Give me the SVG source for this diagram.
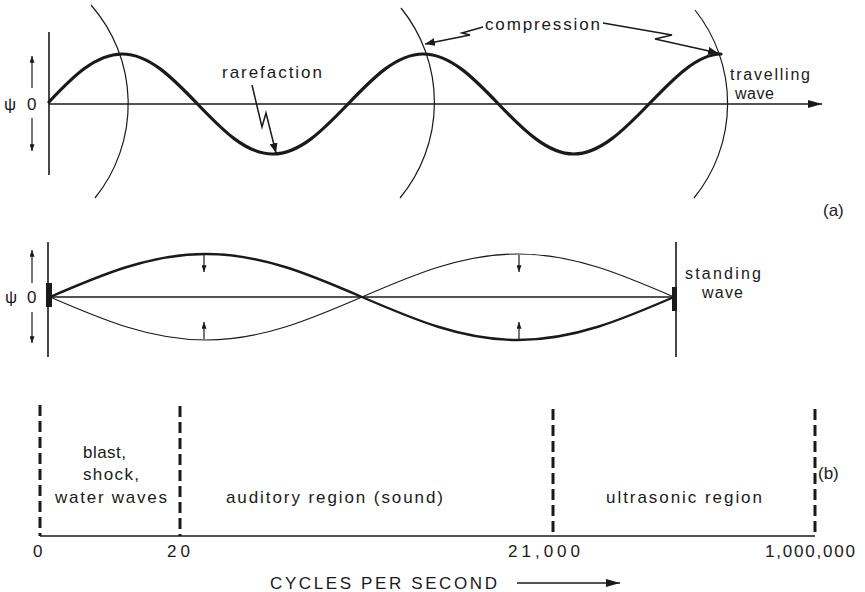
<svg xmlns="http://www.w3.org/2000/svg" width="865" height="592" viewBox="0 0 865 592">
<style>
text{font-family:"Liberation Sans","DejaVu Sans",sans-serif;fill:#1a1a1a;font-size:17px}
.sm{font-size:16px}
.thin{fill:none;stroke:#1a1a1a;stroke-width:1.2}
.axis{fill:none;stroke:#1a1a1a;stroke-width:1.6}
.thick{fill:none;stroke:#1a1a1a;stroke-width:3.2;stroke-linecap:round}
.mid{fill:none;stroke:#1a1a1a;stroke-width:2.4}
.dash{fill:none;stroke:#1a1a1a;stroke-width:3;stroke-dasharray:11 5}
.lead{fill:none;stroke:#1a1a1a;stroke-width:1.5;stroke-linejoin:miter}
</style>
<defs>
<marker id="ah" viewBox="0 0 10 8" refX="10" refY="4" markerWidth="10" markerHeight="8" markerUnits="userSpaceOnUse" orient="auto">
<path d="M0,0 L10,4 L0,8 Z" fill="#1a1a1a"/>
</marker>
<marker id="sm" viewBox="0 0 8 6" refX="8" refY="3" markerWidth="7" markerHeight="5" markerUnits="userSpaceOnUse" orient="auto">
<path d="M0,0 L8,3 L0,6 Z" fill="#1a1a1a"/>
</marker>
<marker id="big" viewBox="0 0 14 8" refX="14" refY="4" markerWidth="14" markerHeight="8" markerUnits="userSpaceOnUse" orient="auto">
<path d="M0,0 L14,4 L0,8 Z" fill="#1a1a1a"/>
</marker>
</defs>

<g id="travelling-wave">
<line class="axis" x1="49" y1="32" x2="49" y2="175"/>
<line class="axis" x1="49" y1="104" x2="822" y2="104" marker-end="url(#big)"/>
<path class="thin" d="M91,5 A150,150 0 0 1 95,198"/>
<path class="thin" d="M401,8 A150,150 0 0 1 400,198"/>
<path class="thin" d="M695,10 A150,150 0 0 1 694,198"/>
<path class="thick" d="M49,102 C72,77.5 95.1,54 122.25,54 S172.94,78.4 197.5,104 S245.6,154 272.75,154 S323.44,129.6 348,104 S396.1,54 423.25,54 S474,78.4 498.5,104 S547.6,154 573.75,154 S624.4,129.6 649,104 S697.1,54 721,54"/>
<text x="4" y="110" font-size="16">ψ</text>
<text x="27" y="110" font-size="18">0</text>
<line class="thin" x1="32" y1="88" x2="32" y2="56" marker-end="url(#sm)"/>
<line class="thin" x1="32" y1="118" x2="32" y2="151" marker-end="url(#sm)"/>
<text class="sm" x="730" y="80" textLength="80" lengthAdjust="spacing">travelling</text>
<text class="sm" x="735" y="99" textLength="39" lengthAdjust="spacing">wave</text>
<text x="823" y="216" font-size="15">(a)</text>
</g>

<g id="labels-a">
<text x="485" y="30" textLength="115" lengthAdjust="spacing">compression</text>
<text x="222" y="78" textLength="100" lengthAdjust="spacing">rarefaction</text>
</g>

<g id="connectors">
<polyline class="lead" points="483,27 462,33 470,35 425,44" marker-end="url(#ah)"/>
<polyline class="lead" points="603,23 672,35 655,39 718,53" marker-end="url(#ah)"/>
<polyline class="lead" points="252,85 262,127 266,113 276,153" marker-end="url(#ah)"/>
</g>

<g id="standing-wave">
<line class="axis" x1="48" y1="242" x2="48" y2="357"/>
<line class="axis" x1="676" y1="242" x2="676" y2="357"/>
<rect x="46" y="283" width="6" height="24" fill="#1a1a1a"/>
<rect x="672" y="287" width="5" height="24" fill="#1a1a1a"/>
<line class="axis" x1="50" y1="297" x2="674" y2="297"/>
<path class="mid" d="M50,297 C100.9,275 149.7,254 206,254 S311.1,275 362,297 S461.7,340 518,340 S623.1,319 674,297"/>
<path class="thin" d="M50,297 C100.9,319 149.7,340 206,340 S311.1,319 362,297 S461.7,254 518,254 S623.1,275 674,297"/>
<line class="thin" x1="204" y1="255" x2="204" y2="272" marker-end="url(#sm)"/>
<line class="thin" x1="204" y1="339" x2="204" y2="322" marker-end="url(#sm)"/>
<line class="thin" x1="519" y1="255" x2="519" y2="272" marker-end="url(#sm)"/>
<line class="thin" x1="519" y1="339" x2="519" y2="322" marker-end="url(#sm)"/>
<text x="5" y="303" font-size="16">ψ</text>
<text x="27" y="303" font-size="18">0</text>
<line class="thin" x1="32" y1="283" x2="32" y2="250" marker-end="url(#sm)"/>
<line class="thin" x1="32" y1="312" x2="32" y2="343" marker-end="url(#sm)"/>
<text class="sm" x="685" y="279" textLength="76" lengthAdjust="spacing">standing</text>
<text class="sm" x="702" y="298" textLength="41" lengthAdjust="spacing">wave</text>
</g>

<g id="spectrum">
<line class="axis" x1="40" y1="536" x2="815" y2="536"/>
<line class="dash" x1="40" y1="405" x2="40" y2="536"/>
<line class="dash" x1="180" y1="406" x2="180" y2="536"/>
<line class="dash" x1="553" y1="409" x2="553" y2="536"/>
<line class="dash" x1="815" y1="409" x2="815" y2="536"/>
<text x="83" y="458" textLength="43" lengthAdjust="spacing">blast,</text>
<text x="83" y="480" textLength="56" lengthAdjust="spacing">shock,</text>
<text x="55" y="503" textLength="112" lengthAdjust="spacing">water waves</text>
<text x="226" y="503" textLength="217" lengthAdjust="spacing">auditory region (sound)</text>
<text x="606" y="503" textLength="156" lengthAdjust="spacing">ultrasonic region</text>
<text x="818" y="479" font-size="15">(b)</text>
<text x="33" y="557">0</text>
<text x="167" y="557" textLength="23" lengthAdjust="spacing">20</text>
<text x="508" y="557" textLength="72" lengthAdjust="spacing">21,000</text>
<text x="765" y="557" textLength="90" lengthAdjust="spacing">1,000,000</text>
<text x="270" y="589" font-size="17" textLength="227" lengthAdjust="spacing">CYCLES PER SECOND</text>
<line class="axis" x1="517" y1="583" x2="620" y2="583" marker-end="url(#big)"/>
</g>
</svg>
